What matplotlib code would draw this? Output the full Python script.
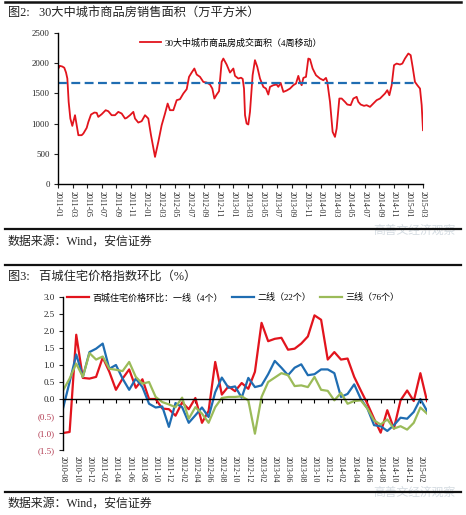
import matplotlib.pyplot as plt
from matplotlib.lines import Line2D
from matplotlib.ticker import FuncFormatter

plt.rcParams['font.family'] = ['Liberation Serif', 'Noto Sans CJK SC']

# ---- 图2: 30大中城市商品房销售面积 (4周移动), x = months since 2011-01
area_month = [0.0, 0.23, 0.59, 0.86, 1.10, 1.28, 1.46, 1.69, 1.96, 2.33, 2.79, 3.24,
              3.47, 3.93, 4.16, 4.52, 4.98, 5.30, 5.52, 5.98, 6.53, 6.89, 7.35, 7.81,
              8.26, 8.72, 9.18, 9.41, 9.86, 10.32, 10.55, 11.00, 11.46, 11.92, 12.37,
              12.74, 13.29, 13.74, 14.20, 14.66, 15.02, 15.34, 15.80, 16.26, 16.71,
              17.17, 17.63, 17.95, 18.31, 18.68, 19.00, 19.45, 19.91, 20.37, 20.82,
              21.14, 21.42, 21.74, 22.06, 22.42, 22.65, 23.10, 23.56, 24.02, 24.25,
              24.70, 25.07, 25.30, 25.48, 25.62, 25.84, 26.07, 26.30, 26.66, 26.98,
              27.30, 27.67, 28.13, 28.49, 28.81, 29.04, 29.50, 29.95, 30.18, 30.50,
              30.87, 31.32, 31.78, 32.24, 32.60, 32.92, 33.15, 33.38, 33.61, 33.97,
              34.29, 34.52, 34.88, 35.34, 35.89, 36.35, 36.71, 36.89, 37.26, 37.62,
              37.94, 38.17, 38.54, 38.86, 39.31, 39.63, 40.09, 40.46, 40.91, 41.14,
              41.46, 41.92, 42.28, 42.74, 43.20, 43.65, 44.11, 44.47, 44.79, 45.11,
              45.39, 45.71, 46.03, 46.39, 46.85, 47.17, 47.53, 47.99, 48.31, 48.58,
              48.90, 49.22, 49.59, 49.82, 50.00]
area_value = [1900, 1956, 1945, 1925, 1845, 1746, 1360, 1084, 962, 1139, 808, 808,
              835, 929, 1028, 1150, 1183, 1178, 1111, 1155, 1222, 1205, 1139, 1139,
              1194, 1167, 1084, 1095, 1139, 1194, 1084, 1017, 1040, 1139, 1084,
              808, 449, 697, 973, 1167, 1332, 1222, 1222, 1388, 1404,
              1498, 1570, 1774, 1845, 1912, 1812, 1774, 1690, 1680, 1647,
              1580, 1415, 1481, 1536, 2022, 2077, 1978, 1845, 1912, 1790,
              1746, 1760, 1740, 1580, 1139, 1001, 985, 1194, 1801, 2050,
              1939, 1746, 1608, 1580, 1481, 1608, 1636, 1647, 1608, 1674,
              1525, 1547, 1580, 1636, 1663, 1790, 1690, 1636, 1757, 1774,
              2077, 2066, 1912, 1801, 1746, 1718, 1757, 1690, 1360, 863,
              780, 918, 1415, 1415, 1360, 1316, 1305, 1415, 1443, 1360,
              1316, 1294, 1305, 1277, 1332, 1388, 1415, 1459, 1498, 1553,
              1470, 1636, 1967, 1994, 1978, 1994, 2077, 2160, 2133, 1939,
              1690, 1636, 1580, 1305, 891]
area_avg = 1670
area_avg_span = [0, 49]
area_ticks = list(range(0, 51, 2))
area_labels = [f'{2011 + m // 12}-{m % 12 + 1:02d}' for m in area_ticks]

# ---- 图3: 百城住宅价格指数环比, monthly from 2010-08
tier1 = [-1.00, -0.97, 1.89, 0.62, 0.60, 0.65, 1.22, 0.80, 0.27, 0.60, 0.87, 0.33,
         0.58, 0.00, 0.00, -0.28, -0.30, -0.49, -0.10, -0.30, 0.03, -0.70, -0.35,
         1.09, 0.13, 0.37, 0.23, 0.47, 0.30, 0.80, 2.24, 1.70, 1.77, 1.80, 1.45,
         1.48, 1.63, 1.84, 2.46, 2.33, 1.16, 1.38, 1.16, 1.19, 0.65, 0.25, -0.14,
         -0.58, -0.99, -0.33, -0.87, -0.04, 0.25, -0.06, 0.76, -0.06]
tier2 = [-0.28, 0.50, 1.31, 0.65, 1.38, 1.48, 1.63, 0.89, 1.00, 0.60, 0.27, 0.60,
         0.35, -0.14, -0.25, -0.22, -0.82, -0.12, -0.24, -0.70, -0.48, -0.25, -0.53,
         0.20, 0.63, 0.33, 0.37, 0.04, 0.62, 0.35, 0.40, 0.73, 1.12, 0.92, 0.70,
         0.92, 1.02, 0.70, 0.73, 0.87, 0.87, 0.76, 0.06, 0.15, 0.43, 0.00, -0.28,
         -0.77, -0.80, -0.94, -0.77, -0.55, -0.58, -0.38, 0.00, -0.35]
tier3 = [0.25, 0.60, 1.04, 0.65, 1.35, 1.16, 1.25, 0.89, 0.86, 0.82, 1.09, 0.65,
         0.45, 0.50, 0.06, -0.09, -0.16, -0.24, 0.04, -0.58, -0.24, -0.43, -0.70,
         -0.24, 0.03, 0.06, 0.06, 0.08, -0.04, -1.02, 0.06, 0.50, 0.63, 0.76, 0.70,
         0.38, 0.40, 0.35, 0.65, 0.27, 0.24, -0.04, 0.18, -0.14, -0.06, -0.04, -0.28,
         -0.63, -0.75, -0.60, -0.87, -0.80, -0.90, -0.70, -0.25, -0.43]
price_x = list(range(len(tier1)))
price_ticks = list(range(0, 55, 2))
price_labels = [f'{2010 + (7 + k) // 12}-{(7 + k) % 12 + 1:02d}' for k in price_ticks]
price_names = ['百城住宅价格环比：一线（4个）', '二线（22个）', '三线（76个）']

RED = '#e2141d'
BLUE = '#1f6db2'
GREEN = '#9bbb59'
TXT = '#222222'

fig = plt.figure(figsize=(4.66, 5.15), dpi=100)
W, H = 466, 515


def rule(y, lw=1.6):
    fig.add_artist(Line2D([5 / W, 461 / W], [1 - y / H] * 2, color='#111111', lw=lw))


# header / footer decorations
rule(2, 1.8)
fig.text(8 / W, 1 - 13 / H, '图2:   30大中城市商品房销售面积（万平方米）', fontsize=8.8, va='center', color=TXT)
rule(229)
fig.text(8 / W, 1 - 242 / H, '数据来源：Wind，安信证券', fontsize=8.6, va='center', color=TXT)
rule(265)
fig.text(8 / W, 1 - 277 / H, '图3:   百城住宅价格指数环比（%）', fontsize=8.8, va='center', color=TXT)
rule(492)
fig.text(8 / W, 1 - 504 / H, '数据来源：Wind，安信证券', fontsize=8.6, va='center', color=TXT)
for wy in (230, 492):
    fig.text(455 / W, 1 - wy / H, '高善文经济观察', fontsize=8.5, ha='right', va='center',
             color='#d5dce2', family='Noto Sans CJK SC', zorder=0)

# ---- top chart
ax1 = fig.add_axes([58 / W, 1 - 184 / H, 365 / W, 151 / H])
ax1.plot(area_month, area_value, color=RED, lw=1.3, label='30大中城市商品房成交面积（4周移动）')
ax1.plot(area_avg_span, [area_avg, area_avg], color=BLUE, lw=1.6, dashes=(4, 2))
ax1.set_xlim(0, 50)
ax1.set_ylim(0, 2500)
ax1.set_yticks(range(0, 2501, 500))
ax1.set_xticks(area_ticks)
ax1.set_xticklabels(area_labels, rotation=-90, fontsize=5.8)
for s in ('top', 'right'):
    ax1.spines[s].set_visible(False)
for s in ('left', 'bottom'):
    ax1.spines[s].set_linewidth(1.0)
ax1.tick_params(axis='y', labelsize=6.3, length=3, width=0.8, colors=TXT, pad=3)
ax1.tick_params(axis='x', length=3, width=0.8, colors=TXT, pad=2)
ax1.legend(loc='center left', bbox_to_anchor=(0.225, 0.935), frameon=False, fontsize=6.5,
           handlelength=2.3, handletextpad=0.4, borderpad=0, borderaxespad=0)

# ---- bottom chart
ax2 = fig.add_axes([63 / W, 1 - 450 / H, 364 / W, 153 / H])
ax2.plot(price_x, tier1, color=RED, lw=1.6, label=price_names[0])
ax2.plot(price_x, tier2, color=BLUE, lw=1.6, label=price_names[1])
ax2.plot(price_x, tier3, color=GREEN, lw=1.6, label=price_names[2])
ax2.set_xlim(0, 55)
ax2.set_ylim(-1.5, 3.0)
yt = [3.0, 2.5, 2.0, 1.5, 1.0, 0.5, 0.0, -0.5, -1.0, -1.5]
ax2.set_yticks(yt)
ax2.yaxis.set_major_formatter(FuncFormatter(lambda v, p: f'({abs(v):.1f})' if v < 0 else f'{v:.1f}'))
for s in ('top', 'right'):
    ax2.spines[s].set_visible(False)
ax2.spines['left'].set_linewidth(1.0)
ax2.spines['bottom'].set_position(('data', 0))
ax2.spines['bottom'].set_linewidth(1.0)
ax2.set_xticks(price_ticks)
ax2.tick_params(axis='x', length=3, width=0.8, labelbottom=False)
ax2.tick_params(axis='y', labelsize=6.5, length=3, width=0.8, colors=TXT, pad=3)
for lbl, v in zip(ax2.get_yticklabels(), yt):
    if v < 0:
        lbl.set_color('#b23a50')
sec = ax2.secondary_xaxis('bottom')
sec.set_xticks(price_ticks)
sec.set_xticklabels(price_labels, rotation=-90, fontsize=5.8, color=TXT)
sec.spines['bottom'].set_visible(False)
sec.tick_params(length=0, pad=4)
ax2.legend(loc='center left', bbox_to_anchor=(0.012, 0.995), frameon=False, fontsize=6.5, ncol=3,
           handlelength=2.4, handletextpad=0.4, columnspacing=1.0, borderpad=0, borderaxespad=0)

fig.savefig('out.png', dpi=100)
